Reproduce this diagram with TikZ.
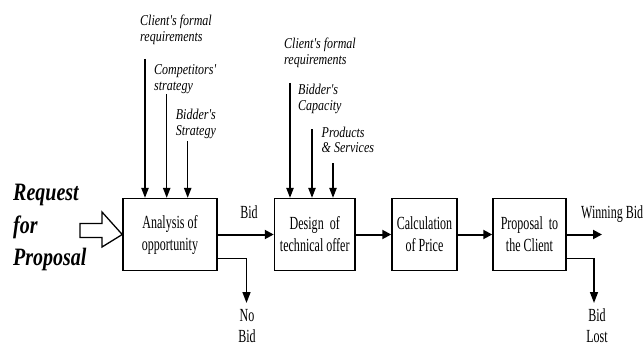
\documentclass[tikz,border=0pt]{standalone}
\usepackage{fontspec}
\newfontfamily\boxf{Liberation Serif}[FakeStretch=0.65]
\newfontfamily\labf{Liberation Serif}[FakeStretch=0.8]
\usetikzlibrary{arrows.meta}
\newcommand{\ltwo}[2]{\vtop{\hbox{#1}\hbox{#2}}}
\newcommand{\ctwo}[2]{\vtop{\hbox to 0pt{\hss#1\hss}\hbox to 0pt{\hss#2\hss}}}
\tikzset{
  procbox/.style={draw, line width=1.5pt, minimum height=72pt, inner sep=0pt, align=center,
    font=\boxf\fontsize{18.5}{22}\selectfont},
  inlabel/.style={anchor=base west, inner sep=0pt, font=\labf\itshape\fontsize{15}{15.5}\selectfont},
  outlabel/.style={anchor=base, inner sep=0pt, font=\boxf\fontsize{18.5}{21}\selectfont},
  inarrow/.style={line width=1.2pt, -{Triangle[length=10pt,width=7.5pt]}},
  flowarrow/.style={line width=2pt, -{Triangle[length=9pt,width=9pt]}},
  branch/.style={line width=1.5pt, -{Triangle[length=11pt,width=8pt]}},
}
\begin{document}
\begin{tikzpicture}[x=1pt,y=-1pt]
\useasboundingbox (0,0) rectangle (643,345);
% process boxes
\node[procbox, minimum width=94pt] (a) at (170,234.5) {Analysis of\\opportunity};
\node[procbox, minimum width=80.5pt] (b) at (314.75,234.5) {Design \ of\\technical offer};
\node[procbox, minimum width=65pt] (c) at (424.5,234.5) {Calculation\\of Price};
\node[procbox, minimum width=73pt] (d) at (529.5,234.5) {Proposal \ to\\the Client};
% request for proposal
\node[anchor=base west, inner sep=0pt, font=\labf\bfseries\itshape\fontsize{25}{33}\selectfont] (rfp) at (13,200)
  {\vtop{\hbox{Request}\hbox{for}\hbox{Proposal}}};
\draw[line width=1.3pt] (a.west) -- (102,212) -- (102,223.5) -- (80,223.5) -- (80,237.5) -- (102,237.5) -- (102,247) -- cycle;
% input labels, box a
\node[inlabel] (l1) at (140,25.7) {\ltwo{Client's formal}{requirements}};
\node[inlabel] (l2) at (154,75) {\ltwo{Competitors'}{strategy}};
\node[inlabel] (l3) at (175.7,120) {\ltwo{Bidder's}{Strategy}};
\coordinate (t1) at (145,59);
\coordinate (t2) at (166.7,94);
\coordinate (t3) at (187.7,141);
\draw[inarrow] (t1) -- (t1 |- a.north);
\draw[inarrow] (t2) -- (t2 |- a.north);
\draw[inarrow] (t3) -- (t3 |- a.north);
% input labels, box b
\node[inlabel] (m1) at (284,49) {\ltwo{Client's formal}{requirements}};
\node[inlabel] (m2) at (298,95) {\ltwo{Bidder's}{Capacity}};
\node[inlabel] (m3) at (321.5,137) {\ltwo{Products}{\& Services}};
\coordinate (u1) at (290,83);
\coordinate (u2) at (312,129);
\coordinate (u3) at (333,163);
\draw[inarrow] (u1) -- (u1 |- b.north);
\draw[inarrow] (u2) -- (u2 |- b.north);
\draw[inarrow] (u3) -- (u3 |- b.north);
% flow
\draw[flowarrow] (a.east) -- (b.west);
\draw[flowarrow] (b.east) -- (c.west);
\draw[flowarrow] (c.east) -- (d.west);
\node[outlabel] (bid) at (249,218) {Bid};
% no bid
\coordinate (nbc) at (246.5,258.3);
\coordinate (nbt) at (246.5,303);
\draw[branch] (a.east |- nbc) -- (nbc) -- (nbt);
\node[outlabel] (nobid) at (247,321) {\ctwo{No}{Bid}};
% winning bid
\coordinate (wb) at (602,234.5);
\draw[flowarrow] (d.east) -- (wb);
\node[anchor=base west, inner sep=0pt, font=\boxf\fontsize{18.5}{22}\selectfont] (win) at (581,218) {Winning Bid};
% bid lost
\coordinate (blc) at (594,258.3);
\coordinate (blt) at (594,303);
\draw[branch] (d.east |- blc) -- (blc) -- (blt);
\node[outlabel] (lost) at (597,321) {\ctwo{Bid}{Lost}};
\end{tikzpicture}
\end{document}
